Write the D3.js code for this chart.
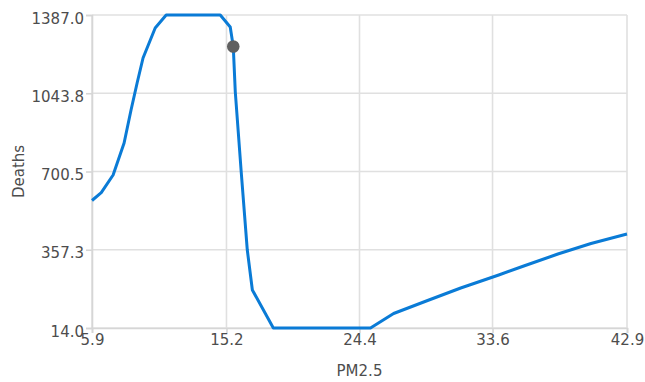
<!DOCTYPE html>
<html>
<head>
<meta charset="utf-8">
<script src="https://cdn.jsdelivr.net/npm/d3@7"></script>
<style>
  html, body { margin: 0; padding: 0; background: #ffffff; }
  svg { display: block; }
  text { font-family: "DejaVu Sans", Verdana, sans-serif; fill: #4d4d4d; }
</style>
</head>
<body>
<svg id="chart" width="645" height="382"></svg>
<script>
// PM2.5 concentration (x) and deaths (y) along the response curve
const pm25 = [5.9, 6.54, 7.36, 8.12, 8.60, 9.02, 9.43, 10.27, 11.03, 14.77, 15.46, 15.67,
              15.81, 16.22, 16.64, 16.99, 18.44, 25.16, 26.76, 29.11, 31.40, 34.03, 35.76,
              38.12, 40.41, 42.9];
const deaths = [573.3, 607.5, 685.1, 825.5, 970.3, 1088.7, 1198.4, 1330.0, 1387.0, 1387.0, 1334.4, 1248.8,
                1049.2, 698.3, 356.1, 180.7, 14.0, 14.0, 77.6, 134.6, 189.5, 246.5, 286.0,
                338.6, 384.7, 426.3];

// Highlighted point on the curve
const markerX = [15.67];
const markerY = [1248.8];

// Axis tick values and labels
const xTicks = [5.9, 15.2, 24.4, 33.6, 42.9];
const yTicks = [14.0, 357.3, 700.5, 1043.8, 1387.0];

const xTitle = "PM2.5";
const yTitle = "Deaths";

const svg = d3.select("#chart");
const margin = { left: 92, right: 18, top: 15, bottom: 54 };
const W = 645, H = 382;

const x = d3.scaleLinear().domain([5.9, 42.9]).range([margin.left, W - margin.right]);
const y = d3.scaleLinear().domain([14.0, 1387.0]).range([H - margin.bottom, margin.top]);

const gridColor = "#e0e0e0";

// Vertical grid lines
svg.append("g").selectAll("line").data(xTicks).join("line")
  .attr("x1", d => x(d)).attr("x2", d => x(d))
  .attr("y1", y(1387.0)).attr("y2", y(14.0))
  .attr("stroke", gridColor).attr("stroke-width", 1.6);

// Horizontal grid lines
svg.append("g").selectAll("line").data(yTicks).join("line")
  .attr("x1", x(5.9)).attr("x2", x(42.9))
  .attr("y1", d => y(d)).attr("y2", d => y(d))
  .attr("stroke", gridColor).attr("stroke-width", 1.6);

// Y axis
const yAxis = svg.append("g")
  .attr("transform", `translate(${x(5.9)},0)`)
  .call(d3.axisLeft(y).tickValues(yTicks).tickFormat(d3.format(".1f")).tickSize(6).tickPadding(2));
yAxis.select(".domain").attr("stroke", "#d6d6d6").attr("stroke-width", 1.6);
yAxis.selectAll(".tick line").attr("stroke", "#d6d6d6").attr("stroke-width", 1.6);
yAxis.selectAll(".tick text")
  .attr("font-family", "DejaVu Sans, Verdana, sans-serif")
  .attr("font-size", 15).attr("fill", "#4d4d4d").attr("dy", "0.55em");

// X axis
const xAxis = svg.append("g")
  .attr("transform", `translate(0,${y(14.0)})`)
  .call(d3.axisBottom(x).tickValues(xTicks).tickFormat(d3.format(".1f")).tickSize(5).tickPadding(1));
xAxis.select(".domain").attr("stroke", "#d6d6d6").attr("stroke-width", 1.6);
xAxis.selectAll(".tick line").attr("stroke", "#d6d6d6").attr("stroke-width", 1.6);
xAxis.selectAll(".tick text")
  .attr("font-family", "DejaVu Sans, Verdana, sans-serif")
  .attr("font-size", 15).attr("fill", "#4d4d4d");

// Axis titles
svg.append("text")
  .attr("x", (x(5.9) + x(42.9)) / 2).attr("y", 376)
  .attr("text-anchor", "middle").attr("font-size", 15)
  .text(xTitle);

svg.append("text")
  .attr("transform", `translate(23.5,${(y(14.0) + y(1387.0)) / 2}) rotate(-90)`)
  .attr("text-anchor", "middle").attr("font-size", 15)
  .text(yTitle);

// Response curve
const points = pm25.map((d, i) => [d, deaths[i]]);
svg.append("path")
  .datum(points)
  .attr("fill", "none")
  .attr("stroke", "#0a7bd6")
  .attr("stroke-width", 3)
  .attr("stroke-linejoin", "round")
  .attr("d", d3.line().x(d => x(d[0])).y(d => y(d[1])));

// Marker
svg.append("g").selectAll("circle").data(markerX).join("circle")
  .attr("cx", d => x(d))
  .attr("cy", (d, i) => y(markerY[i]))
  .attr("r", 6.3)
  .attr("fill", "#606060");
</script>
</body>
</html>
